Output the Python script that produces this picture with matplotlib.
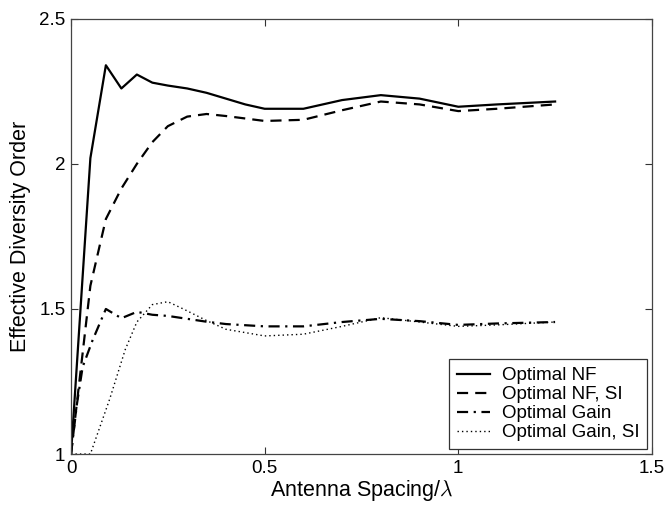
import numpy as np
import matplotlib
matplotlib.use("Agg")
import matplotlib.pyplot as plt

plt.rcParams['font.family'] = ['Liberation Sans', 'DejaVu Sans']
plt.rcParams['mathtext.fontset'] = 'cm'

# Optimal NF
x_nf = [0, 0.05, 0.09, 0.13, 0.17, 0.21, 0.25, 0.3, 0.35, 0.4, 0.45, 0.5,
        0.6, 0.7, 0.8, 0.9, 1.0, 1.1, 1.25]
y_nf = [1.0, 2.02, 2.34, 2.26, 2.308, 2.28, 2.27, 2.26, 2.245, 2.225, 2.205, 2.19,
        2.19, 2.22, 2.237, 2.225, 2.197, 2.205, 2.215]

# Optimal NF, SI
x_nfsi = [0, 0.05, 0.09, 0.13, 0.17, 0.21, 0.25, 0.3, 0.35, 0.4, 0.5,
          0.6, 0.7, 0.8, 0.9, 1.0, 1.1, 1.25]
y_nfsi = [1.0, 1.58, 1.81, 1.915, 2.0, 2.075, 2.13, 2.163, 2.172, 2.165, 2.148,
          2.152, 2.185, 2.215, 2.205, 2.182, 2.19, 2.205]

# Optimal Gain
x_g = [0, 0.015, 0.03, 0.055, 0.09, 0.13, 0.17, 0.21, 0.25, 0.3, 0.35, 0.4, 0.5,
       0.6, 0.7, 0.8, 0.9, 1.0, 1.1, 1.25]
y_g = [1.0, 1.17, 1.30, 1.39, 1.50, 1.468, 1.49, 1.48, 1.476, 1.466, 1.456, 1.448, 1.44,
       1.44, 1.455, 1.466, 1.458, 1.445, 1.45, 1.455]

# Optimal Gain, SI
x_gsi = [0, 0.05, 0.1, 0.14, 0.17, 0.21, 0.25, 0.29, 0.35, 0.4, 0.5,
         0.6, 0.7, 0.8, 0.9, 1.0, 1.1, 1.25]
y_gsi = [1.0, 1.0, 1.19, 1.36, 1.455, 1.515, 1.525, 1.50, 1.46, 1.43, 1.407,
         1.413, 1.44, 1.47, 1.455, 1.44, 1.445, 1.455]

fig = plt.figure(figsize=(6.7, 5.09), dpi=100)
ax = fig.add_axes([0.106, 0.108, 0.867, 0.855])

ax.plot(x_nf, y_nf, color='k', lw=1.6, label='Optimal NF')
ax.plot(x_nfsi, y_nfsi, color='k', lw=1.6, dashes=(5, 3.2), label='Optimal NF, SI')
ax.plot(x_g, y_g, color='k', lw=1.6, dashes=(5, 2.5, 1, 2.5), label='Optimal Gain')
ax.plot(x_gsi, y_gsi, color='k', lw=1.0, dashes=(1, 2.2), label='Optimal Gain, SI')

ax.set_xlim(0, 1.5)
ax.set_ylim(1, 2.5)
ax.set_xticks([0, 0.5, 1, 1.5])
ax.set_xticklabels(['0', '0.5', '1', '1.5'])
ax.set_yticks([1, 1.5, 2, 2.5])
ax.set_yticklabels(['1', '1.5', '2', '2.5'])
ax.tick_params(direction='in', top=True, right=True, length=5, width=0.8,
               labelsize=13.5, colors='#333333', labelcolor='k', pad=4)
for s in ax.spines.values():
    s.set_color('#444444')
    s.set_linewidth(0.9)

ax.set_xlabel(r'Antenna Spacing/$\lambda$', fontsize=15.5, labelpad=1)
ax.set_ylabel('Effective Diversity Order', fontsize=15.5, labelpad=6)

leg = ax.legend(loc='lower right', fontsize=13.5, handlelength=1.8,
                fancybox=False, framealpha=1, edgecolor='#333333',
                borderpad=0.42, labelspacing=0.1, handletextpad=0.6,
                borderaxespad=0.25)
leg.get_frame().set_linewidth(0.9)

fig.savefig('out.png', dpi=100)
